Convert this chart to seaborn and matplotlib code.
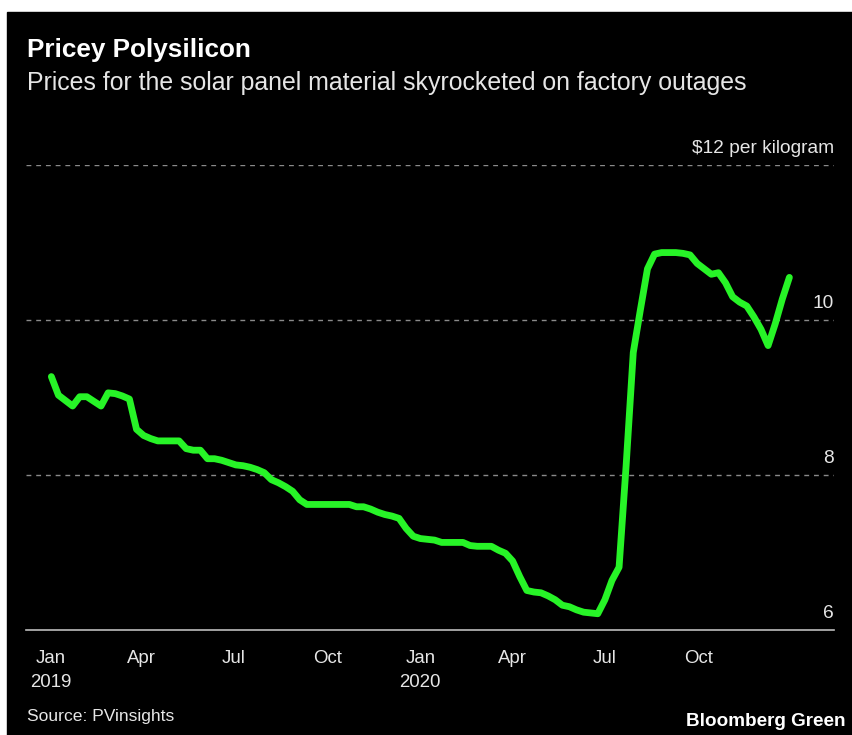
import numpy as np
import pandas as pd
import matplotlib
matplotlib.use("Agg")
import matplotlib.pyplot as plt
import matplotlib.transforms as mtransforms
import seaborn as sns

# weekly polysilicon price, USD per kg
fechas = pd.date_range("2019-01-02", periods=105, freq="7D")
precios = [
    9.27, 9.03, 8.96, 8.89, 9.01, 9.01, 8.95, 8.89, 9.06, 9.05,
    9.02, 8.98, 8.59, 8.51, 8.47, 8.44, 8.44, 8.44, 8.44, 8.34,
    8.32, 8.32, 8.21, 8.21, 8.19, 8.16, 8.13, 8.12, 8.10, 8.07,
    8.03, 7.94, 7.90, 7.85, 7.79, 7.68, 7.62, 7.62, 7.62, 7.62,
    7.62, 7.62, 7.62, 7.59, 7.59, 7.56, 7.52, 7.49, 7.47, 7.44,
    7.31, 7.21, 7.18, 7.17, 7.16, 7.13, 7.13, 7.13, 7.13, 7.09,
    7.08, 7.08, 7.08, 7.03, 6.99, 6.89, 6.69, 6.51, 6.49, 6.48,
    6.44, 6.39, 6.32, 6.30, 6.26, 6.23, 6.22, 6.21, 6.39, 6.64,
    6.81, 8.13, 9.58, 10.13, 10.66, 10.85, 10.87, 10.87, 10.87, 10.86,
    10.84, 10.73, 10.66, 10.59, 10.61, 10.48, 10.30, 10.23, 10.18, 10.04,
    9.88, 9.67, 9.95, 10.27, 10.55,
]
ticks_y = [8, 10, 12]
etiquetas_y = ["8", "10", "$12 per kilogram"]
ticks_x = ["2019-01-01", "2019-04-01", "2019-07-01", "2019-10-01",
           "2020-01-01", "2020-04-01", "2020-07-01", "2020-10-01"]
etiquetas_x = ["Jan\n2019", "Apr", "Jul", "Oct", "Jan\n2020", "Apr", "Jul", "Oct"]

df = pd.DataFrame({"fecha": fechas, "precio": precios})

sns.set_style("dark")
plt.rcParams["font.family"] = ["Liberation Sans", "DejaVu Sans"]

fig = plt.figure(figsize=(8.52, 7.35), dpi=100)
fig.patch.set_facecolor("white")
# tarjeta negra
fig.add_artist(plt.Rectangle((7 / 852, 0), 1, 1 - 12 / 735,
                             transform=fig.transFigure, color="black", zorder=-10))

ax = fig.add_axes([26 / 852, 1 - 630 / 735, (834 - 26) / 852, (630 - 165) / 735])
ax.set_facecolor("black")
ax.patch.set_alpha(0)

sns.lineplot(data=df, x="fecha", y="precio", ax=ax, color="#27f427",
             linewidth=4.9, solid_joinstyle="round", solid_capstyle="round",
             zorder=5, clip_on=False)

ax.set_xlim(pd.Timestamp("2018-12-08"), pd.Timestamp("2021-02-12"))
ax.set_ylim(6, 12)

for v in ticks_y:
    ax.axhline(v, color="#8a8a8a", lw=1, linestyle=(0, (3.5, 3.5)), zorder=1)

trans = mtransforms.blended_transform_factory(ax.transAxes, ax.transData)
desplazar = mtransforms.ScaledTranslation(0, 5.5 / 72, fig.dpi_scale_trans)
for v, t in zip([6] + ticks_y, ["6"] + etiquetas_y):
    ax.text(1.0, v, t, transform=trans + desplazar, ha="right", va="bottom",
            color="#e6e6e6", fontsize=13.8, clip_on=False)

ax.set_yticks([])
ax.set_xticks(pd.to_datetime(ticks_x))
ax.set_xticklabels(etiquetas_x, color="#e6e6e6", fontsize=13.4, linespacing=1.55)
ax.tick_params(axis="x", colors="#bdbdbd", length=5, width=1, pad=9.5, labelcolor="#e6e6e6")
ax.grid(False)
for s in ["top", "left", "right"]:
    ax.spines[s].set_visible(False)
ax.spines["bottom"].set_color("#bdbdbd")
ax.spines["bottom"].set_linewidth(1.2)
ax.set_xlabel("")
ax.set_ylabel("")

fig.text(27 / 852, 1 - 50 / 735, "Pricey Polysilicon", color="white",
         fontsize=18.8, fontweight="bold", va="center", ha="left")
fig.text(27 / 852, 1 - 83 / 735,
         "Prices for the solar panel material skyrocketed on factory outages",
         color="#e6e6e6", fontsize=17.9, va="center", ha="left")
fig.text(27 / 852, 1 - 717 / 735, "Source: PVinsights", color="#e6e6e6",
         fontsize=12.6, va="center", ha="left")
fig.text(846 / 852, 1 - 722 / 735, "Bloomberg Green", color="white",
         fontsize=13.6, fontweight="bold", va="center", ha="right")

fig.savefig("out.png", dpi=100, facecolor=fig.get_facecolor())
